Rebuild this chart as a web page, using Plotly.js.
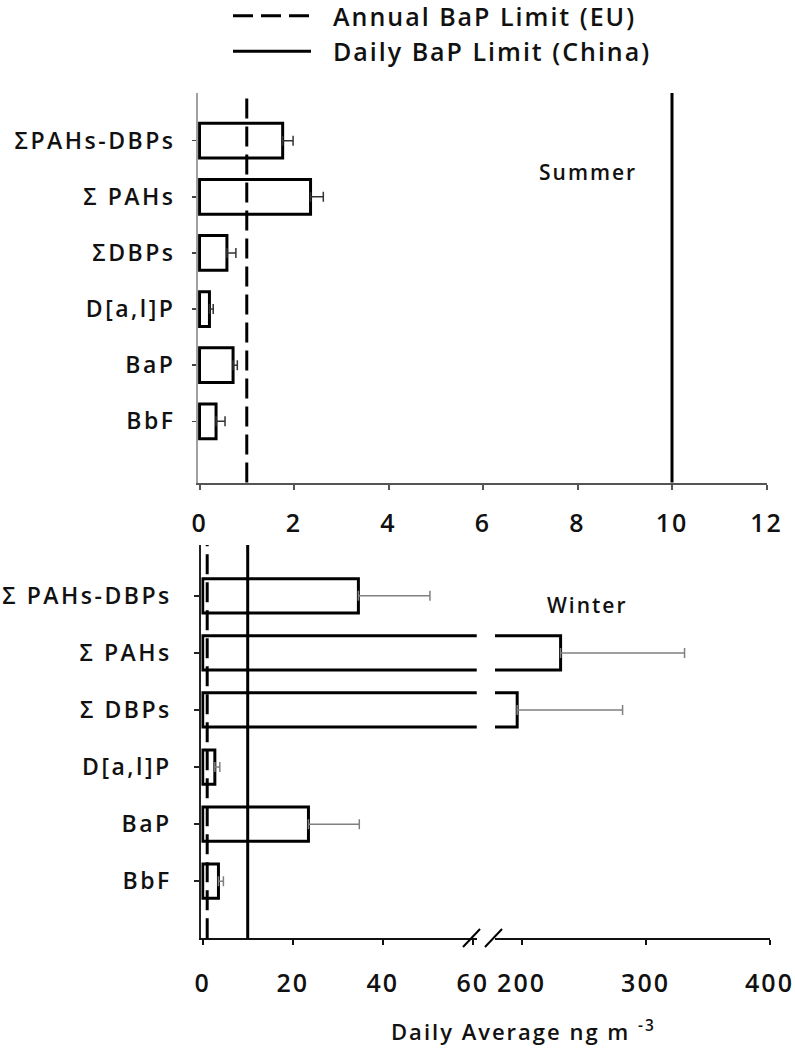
<!DOCTYPE html>
<html><head><meta charset="utf-8">
<script src="https://cdn.plot.ly/plotly-3.0.1.min.js"></script>
<style>
html,body{margin:0;padding:0;background:#fff}
#chart{width:795px;height:1050px}
svg text{letter-spacing:2px}
#chart .ytick text,#chart .y2tick text{letter-spacing:2.5px}
</style></head><body><div id="chart"></div><script>
// ---- data ----
const categoriesSummer = ["BbF", "BaP", "D[a,l]P", "ΣDBPs", "Σ PAHs", "ΣPAHs-DBPs"];
const categoriesWinter = ["BbF", "BaP", "D[a,l]P", "Σ DBPs", "Σ PAHs", "Σ PAHs-DBPs"];
const summerMean = [0.35, 0.71, 0.21, 0.58, 2.35, 1.76];
const summerErr  = [0.19, 0.09, 0.08, 0.19, 0.27, 0.22];
const winterMean = [3.5, 23.5, 2.7, 196.5, 231.5, 34.6];
const winterErr  = [1.1, 11.3, 1.1, 85, 100, 15.9];
const euAnnualLimit = 1;
const chinaDailyLimit = 10;
const summerTicks = [0, 2, 4, 6, 8, 10, 12];
const winterTicksLow = [0, 20, 40, 60];
const winterTicksHigh = [200, 300, 400];
const legendNames = ["Annual BaP Limit (EU)", "Daily BaP Limit (China)"];

// ---- layout helpers ----
const W = 795, H = 1050;
const fx = p => p / W, fy = p => 1 - p / H;
const zeros = a => a.map(() => 0);
const DASH = '20px,8px';
const PAD = '\u00A0\u00A0';
const FW = 600;

const barStyle = {color: 'white', line: {color: 'black', width: 3}};

const traces = [
  {type: 'bar', orientation: 'h', y: categoriesSummer, x: summerMean, width: 0.62,
   marker: barStyle, xaxis: 'x', yaxis: 'y', showlegend: false, hoverinfo: 'x+y',
   error_x: {type: 'data', array: summerErr, arrayminus: zeros(summerErr), symmetric: false,
             color: '#333', thickness: 1.5, width: 5}},
  {type: 'bar', orientation: 'h', y: categoriesWinter, x: winterMean, width: 0.6,
   marker: barStyle, xaxis: 'x2', yaxis: 'y2', showlegend: false, hoverinfo: 'x+y',
   error_x: {type: 'data', array: winterErr, arrayminus: zeros(winterErr), symmetric: false,
             color: '#808080', thickness: 1.5, width: 5}},
  {type: 'bar', orientation: 'h', y: categoriesWinter, x: winterMean, width: 0.6,
   marker: barStyle, xaxis: 'x3', yaxis: 'y3', showlegend: false, hoverinfo: 'x+y',
   error_x: {type: 'data', array: winterErr, arrayminus: zeros(winterErr), symmetric: false,
             color: '#808080', thickness: 1.5, width: 5}}
];

const axBase = {showgrid: false, zeroline: false, fixedrange: true};

function limitLine(xref, yref, x, dash, legend, name) {
  return {type: 'line', xref: xref, yref: yref + ' domain', x0: x, x1: x, y0: 0, y1: 1,
          layer: 'above', line: {color: 'black', width: 3, dash: dash},
          showlegend: legend, name: name};
}

const shapes = [
  limitLine('x', 'y', euAnnualLimit, DASH, true, PAD + legendNames[0]),
  limitLine('x', 'y', chinaDailyLimit, 'solid', true, PAD + legendNames[1]),
  limitLine('x2', 'y2', euAnnualLimit, DASH, false),
  limitLine('x2', 'y2', chinaDailyLimit, 'solid', false),
  // axis break marks
  {type: 'line', xref: 'paper', yref: 'paper', x0: fx(463), y0: fy(947), x1: fx(480), y1: fy(929),
   line: {color: 'black', width: 2}},
  {type: 'line', xref: 'paper', yref: 'paper', x0: fx(485), y0: fy(947), x1: fx(502), y1: fy(929),
   line: {color: 'black', width: 2}}
];

const layout = {
  width: W, height: H,
  margin: {l: 0, r: 0, t: 0, b: 0, autoexpand: false},
  paper_bgcolor: 'white', plot_bgcolor: 'rgba(0,0,0,0)',
  font: {family: 'Open Sans, sans-serif', size: 25, color: '#111', weight: FW},
  showlegend: true,
  legend: {x: fx(228), y: fy(-7), xanchor: 'left', yanchor: 'top', itemwidth: 78,
           font: {size: 25, color: '#111', weight: FW}, bgcolor: 'rgba(0,0,0,0)', traceorder: 'normal'},
  xaxis: Object.assign({}, axBase, {
    domain: [fx(198.1), fx(766.5)], range: [-0.03, 12], tickvals: summerTicks, anchor: 'y',
    showline: true, linecolor: '#555', linewidth: 2, ticks: 'outside', ticklen: 5,
    tickcolor: '#555', tickwidth: 2, ticklabelstandoff: 12,
    tickfont: {size: 25, weight: FW, color: '#111'}}),
  yaxis: Object.assign({}, axBase, {
    domain: [fy(482.5), fy(93)], type: 'category', categoryorder: 'array',
    categoryarray: categoriesSummer, range: [-1.09, 5.85], anchor: 'x',
    showline: true, linecolor: '#a0a0a0', linewidth: 2, layer: 'below traces',
    ticks: 'outside', ticklen: 4, tickcolor: '#444', tickwidth: 1.5,
    tickfont: {size: 23, weight: FW, color: '#111'}, ticklabelstandoff: 12}),
  xaxis2: Object.assign({}, axBase, {
    domain: [fx(201.35), fx(476.75)], range: [-0.3, 60.9], tickvals: winterTicksLow, anchor: 'y2',
    showline: true, linecolor: '#111', linewidth: 2, ticks: 'outside', ticklen: 5,
    tickcolor: '#111', tickwidth: 2, ticklabelstandoff: 17,
    tickfont: {size: 25, weight: FW, color: '#111'}}),
  yaxis2: Object.assign({}, axBase, {
    domain: [fy(938.3), fy(545)], type: 'category', categoryorder: 'array',
    categoryarray: categoriesWinter, range: [-1, 5.89], anchor: 'x2',
    showline: true, linecolor: '#222', linewidth: 2, layer: 'below traces',
    ticks: 'outside', ticklen: 5, tickcolor: '#222', tickwidth: 1.5,
    tickfont: {size: 23, weight: FW, color: '#111'}, ticklabelstandoff: 18}),
  xaxis3: Object.assign({}, axBase, {
    domain: [fx(495), fx(769.5)], range: [178.6, 400], tickvals: winterTicksHigh, anchor: 'y3',
    showline: true, linecolor: '#111', linewidth: 2, ticks: 'outside', ticklen: 5,
    tickcolor: '#111', tickwidth: 2, ticklabelstandoff: 17,
    tickfont: {size: 25, weight: FW, color: '#111'}}),
  yaxis3: Object.assign({}, axBase, {
    domain: [fy(938.3), fy(545)], type: 'category', categoryorder: 'array',
    categoryarray: categoriesWinter, range: [-1, 5.89], anchor: 'x3',
    showline: false, showticklabels: false, ticks: ''}),
  shapes: shapes,
  annotations: [
    {text: 'Summer', xref: 'paper', yref: 'paper', x: fx(588), y: fy(172.5),
     xanchor: 'center', yanchor: 'middle', showarrow: false, font: {size: 21, color: '#111', weight: FW}},
    {text: 'Winter', xref: 'paper', yref: 'paper', x: fx(587), y: fy(605),
     xanchor: 'center', yanchor: 'middle', showarrow: false, font: {size: 21, color: '#111', weight: FW}},
    {text: 'Daily Average ng m <sup>-3</sup>', xref: 'paper', yref: 'paper', x: fx(523), y: fy(1030),
     xanchor: 'center', yanchor: 'middle', showarrow: false, font: {size: 22, color: '#111', weight: FW}}
  ]
};

Plotly.newPlot('chart', traces, layout, {staticPlot: true, displayModeBar: false});
</script></body></html>
